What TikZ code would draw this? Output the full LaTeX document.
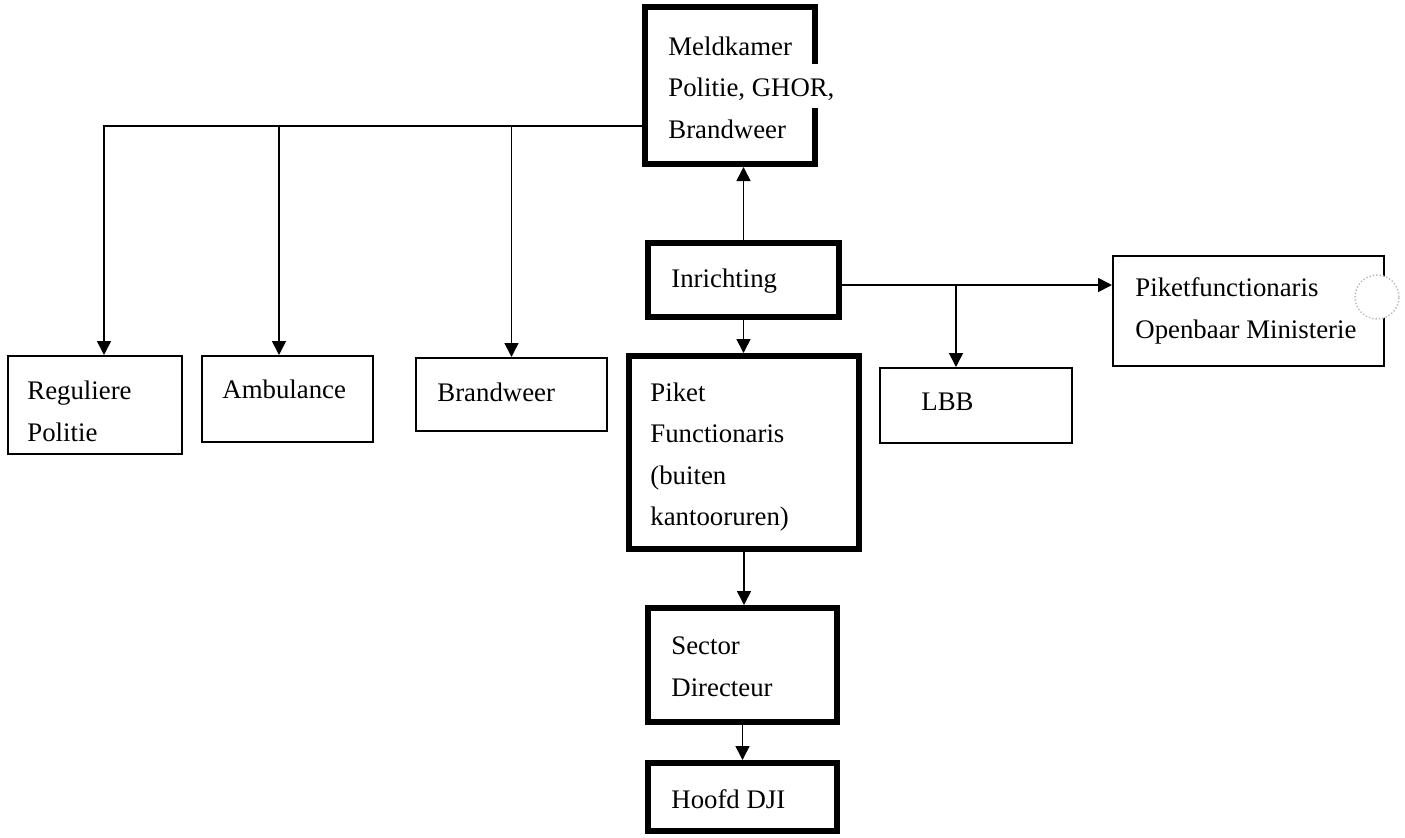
\documentclass[tikz,border=0pt]{standalone}
\usepackage{fontspec}
\setmainfont{Liberation Serif}
\usetikzlibrary{arrows.meta,calc}
\begin{document}
\begin{tikzpicture}[x=0.5pt,y=-0.5pt,
  thickbox/.style={draw, line width=3pt, rectangle, inner sep=0pt},
  thinbox/.style={draw, line width=1pt, rectangle, inner sep=0pt},
  lbl/.style={anchor=base west, inner sep=0pt, align=left, font=\fontsize{13.4pt}{20.75pt}\selectfont},
  conn/.style={line width=0.8pt, -{Triangle[length=7pt,width=7pt]}},
  plain/.style={line width=0.8pt}]
\useasboundingbox (0,0) rectangle (1405,837);
% boxes
\node[thickbox, minimum width=85pt, minimum height=78.5pt] (meld) at (730,85.5) {};
\node[thickbox, minimum width=95.5pt, minimum height=37pt] (inr) at (743.5,280) {};
\node[thickbox, minimum width=115pt, minimum height=96.5pt] (piket) at (744,452.5) {};
\node[thickbox, minimum width=94.5pt, minimum height=57pt] (sector) at (742.5,665) {};
\node[thickbox, minimum width=94.5pt, minimum height=34pt] (hoofd) at (742.5,797) {};
\node[thinbox, minimum width=87pt, minimum height=49pt] (regp) at (95,405) {};
\node[thinbox, minimum width=85.5pt, minimum height=43pt] (amb) at (287.5,399) {};
\node[thinbox, minimum width=95.5pt, minimum height=36.5pt] (brand) at (511.5,394.5) {};
\node[thinbox, minimum width=96pt, minimum height=37.5pt] (lbb) at (976,405.5) {};
\node[thinbox, minimum width=135.5pt, minimum height=55pt] (om) at (1248.5,311) {};
% text overflowing the Meldkamer box hides its border there
\fill[white] (810,64) rectangle (838,108);
% labels (anchor at the baseline of the last line)
\node[lbl] (tmeld) at (668,138) {Meldkamer\\Politie, GHOR,\\Brandweer};
\node[lbl] (tinr) at (671,287) {Inrichting};
\node[lbl] (tpiket) at (650,525.5) {Piket\\Functionaris\\(buiten\\kantooruren)};
\node[lbl] (tsector) at (671,696) {Sector\\Directeur};
\node[lbl] (thoofd) at (671,808) {Hoofd DJI};
\node[lbl] (tregp) at (27,441) {Reguliere\\Politie};
\node[lbl] (tamb) at (222,398) {Ambulance};
\node[lbl] (tbrand) at (437,401) {Brandweer};
\node[lbl] (tlbb) at (921,410) {LBB};
\node[lbl] (tom) at (1135,338) {Piketfunctionaris\\Openbaar Ministerie};
% connectors
\coordinate (bus) at ($(meld.west)+(0,40.5)$);
\coordinate (regtop) at ($(regp.north west)+(97,0)$);
\coordinate (ambtop) at ($(amb.north west)+(78,0)$);
\draw[conn] (bus) -| (regtop);
\draw[conn] (bus -| ambtop) -- (ambtop);
\draw[conn] (bus -| brand.north) -- (brand.north);
\draw[conn] (inr.north) -- (inr.north |- meld.south);
\draw[conn] (inr.south) -- (inr.south |- piket.north);
\draw[conn] (piket.south) -- (piket.south |- sector.north);
\draw[conn] (sector.south) -- (sector.south |- hoofd.north);
\coordinate (inrout) at ($(inr.east)+(0,5)$);
\coordinate (lbbtop) at ($(lbb.north west)+(77,0)$);
\draw[conn] (inrout) -- (inrout -| om.west);
\draw[conn] (inrout -| lbbtop) -- (lbbtop);
% faint circle covering the box edge
\filldraw[fill=white, draw=gray!55, densely dotted, line width=0.7pt] (1377,297) circle[radius=11pt];
\end{tikzpicture}
\end{document}
